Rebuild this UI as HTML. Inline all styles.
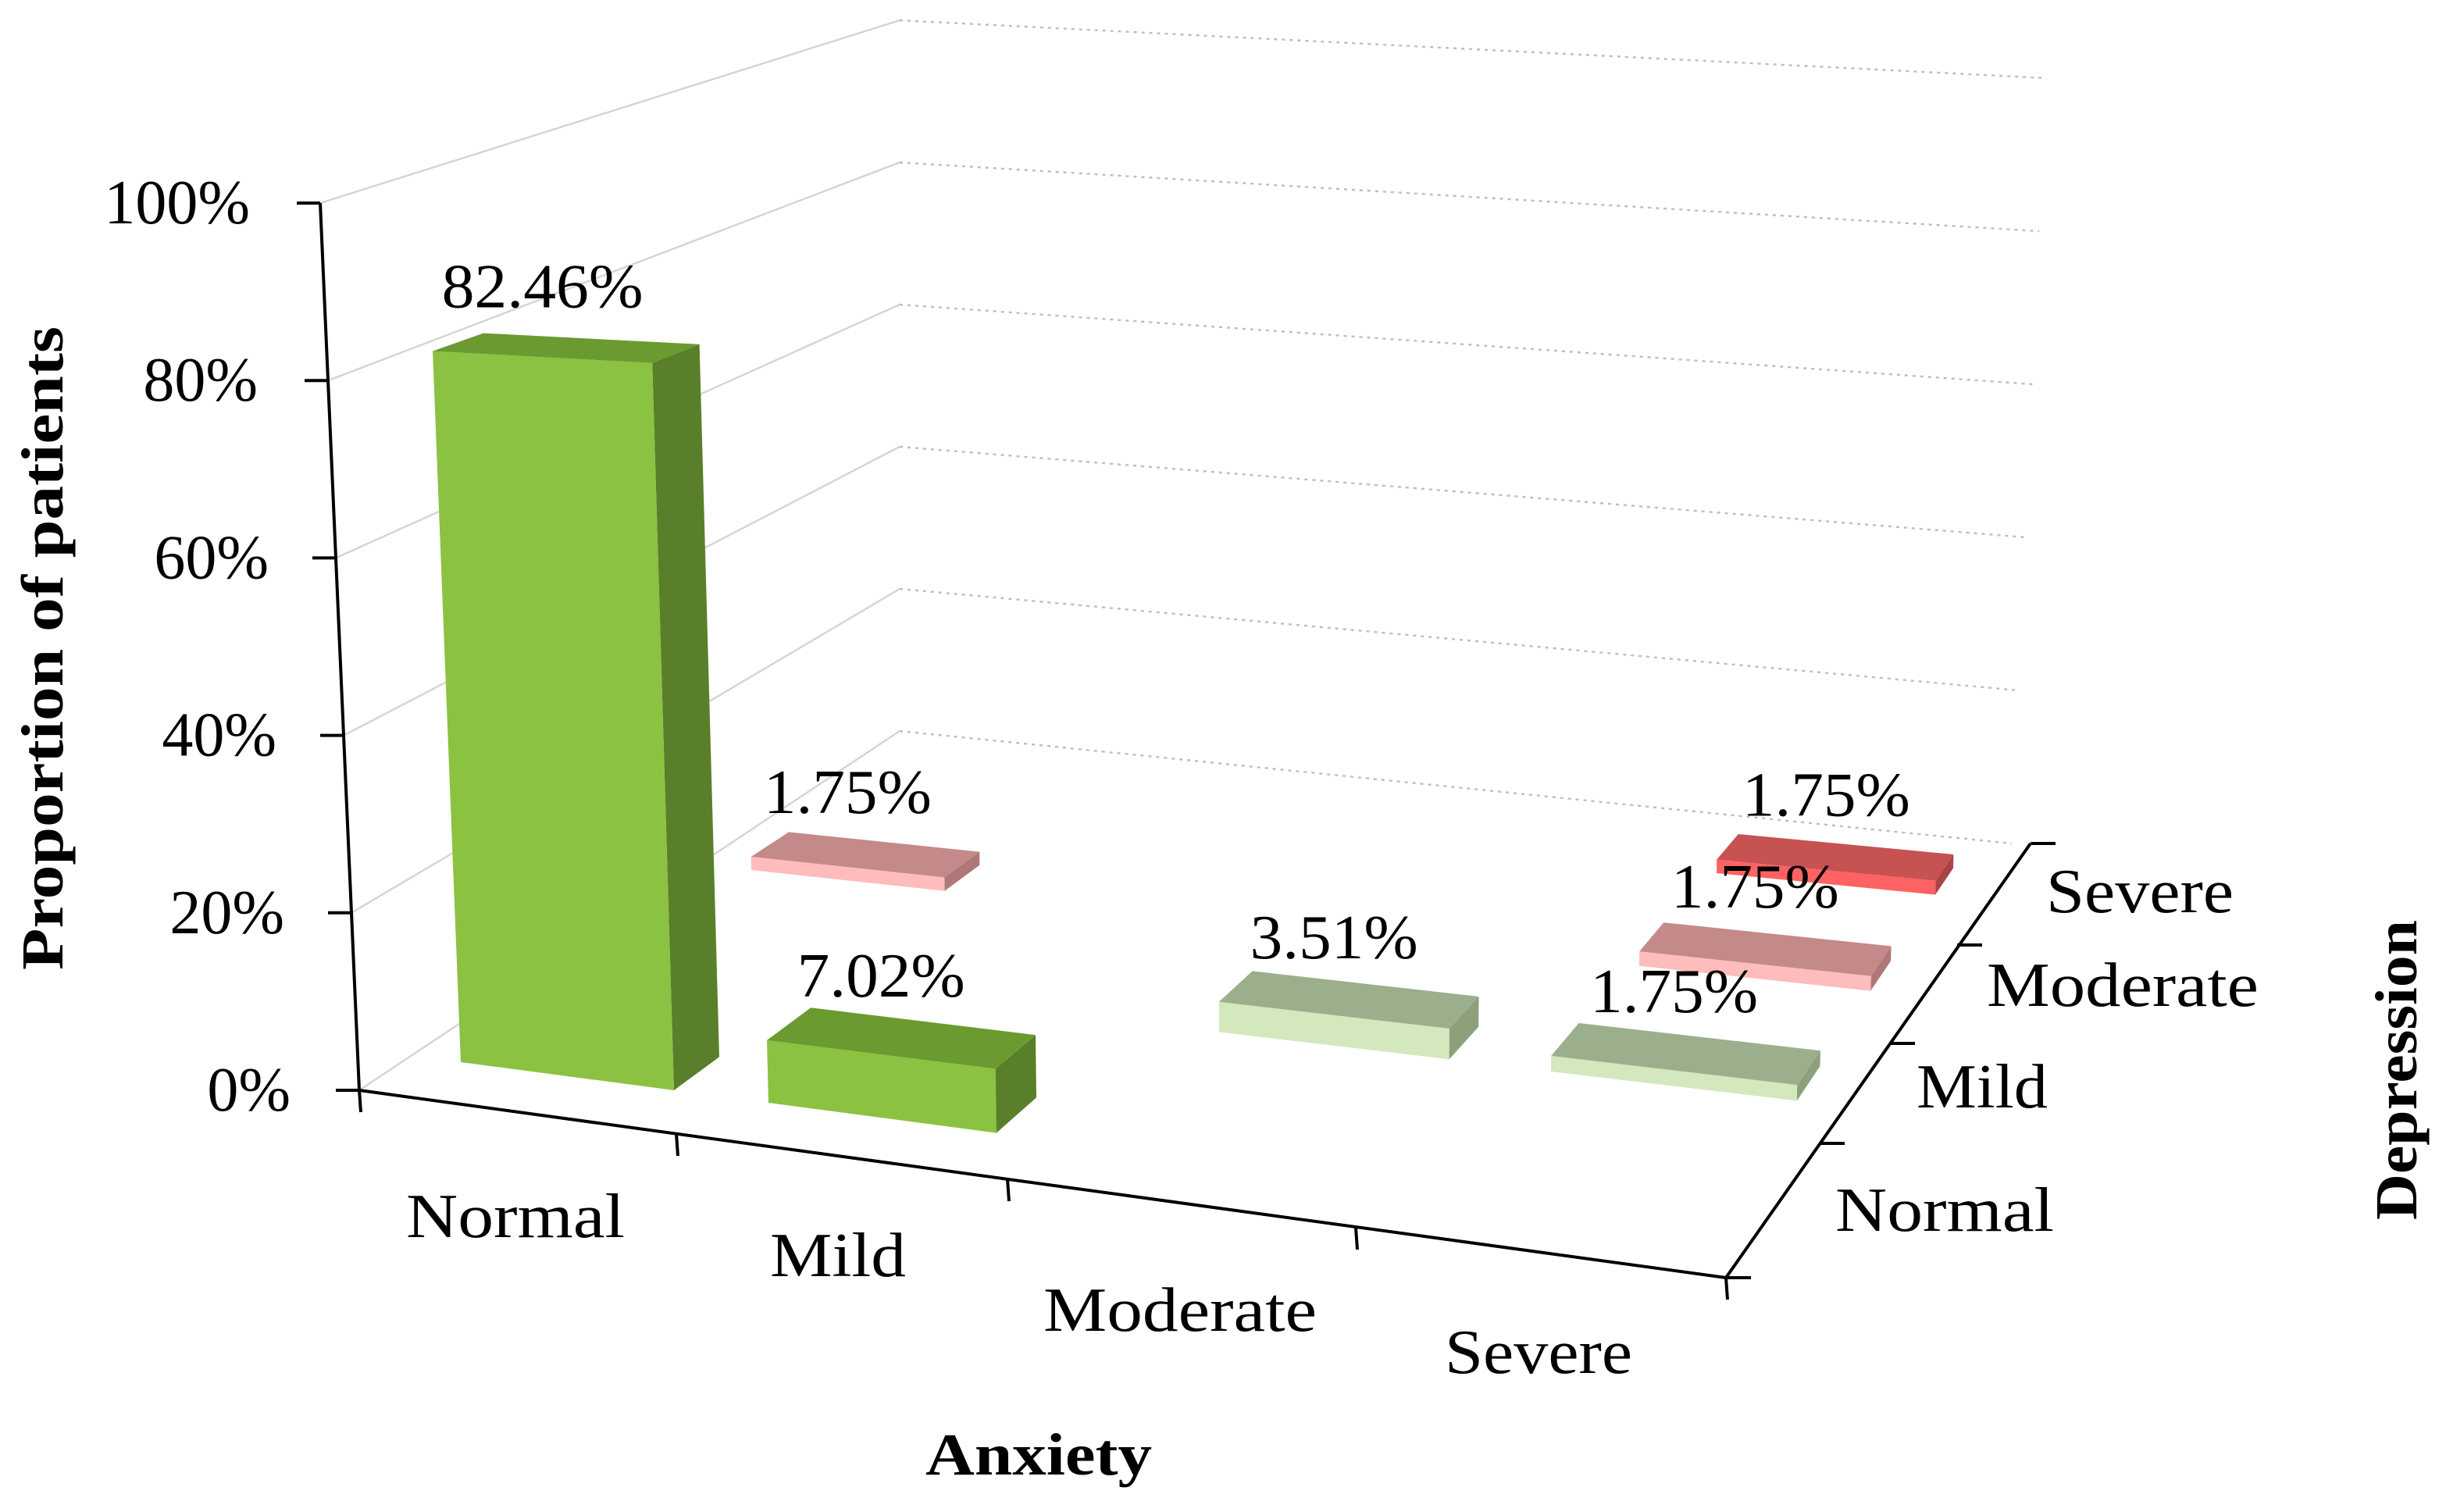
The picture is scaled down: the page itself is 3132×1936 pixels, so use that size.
<!DOCTYPE html>
<html><head><meta charset="utf-8"><style>
html,body{margin:0;padding:0;background:#fff;}
svg{display:block;font-family:"Liberation Serif",serif;}
</style></head><body>
<svg id="chart" xmlns="http://www.w3.org/2000/svg" width="3132" height="1936" viewBox="0 0 1566 968">
<g id="walls"></g>
<g id="axes">
  <line x1="205" y1="130" x2="230" y2="698" stroke="#000" stroke-width="2"/>
  <line x1="230" y1="698" x2="1105" y2="818" stroke="#000" stroke-width="2"/>
  <line x1="1105" y1="818" x2="1300" y2="540" stroke="#000" stroke-width="2"/>
</g>
<g id="bars"></g>
<g id="labels"></g>
<g font-size="40" fill="#000">
  <text x="260" y="792" textLength="140" lengthAdjust="spacingAndGlyphs">Normal</text>
  <text x="493" y="817" textLength="87" lengthAdjust="spacingAndGlyphs">Mild</text>
  <text x="668" y="852" textLength="175" lengthAdjust="spacingAndGlyphs">Moderate</text>
  <text x="925" y="879" textLength="120" lengthAdjust="spacingAndGlyphs">Severe</text>
  <text x="1310" y="584" textLength="120" lengthAdjust="spacingAndGlyphs">Severe</text>
  <text x="1272" y="644" textLength="174" lengthAdjust="spacingAndGlyphs">Moderate</text>
  <text x="1227" y="709" textLength="84" lengthAdjust="spacingAndGlyphs">Mild</text>
  <text x="1175" y="788" textLength="140" lengthAdjust="spacingAndGlyphs">Normal</text>
</g>
<g id="yticks" font-size="40" text-anchor="end"></g>
<text transform="translate(40,415) rotate(-90)" text-anchor="middle" font-size="38" font-weight="bold" textLength="412" lengthAdjust="spacingAndGlyphs">Proportion of patients</text>
<text x="665" y="944" text-anchor="middle" font-size="38" font-weight="bold" textLength="145" lengthAdjust="spacingAndGlyphs">Anxiety</text>
<text transform="translate(1547,685) rotate(-90)" text-anchor="middle" font-size="38" font-weight="bold" textLength="192" lengthAdjust="spacingAndGlyphs">Depression</text>
</svg>
<script>
const anxietyIdx = [0, 1, 0, 2, 3, 3, 3];
const depressionIdx = [0, 0, 2, 1, 1, 2, 3];
const values = [82.46, 7.02, 1.75, 3.51, 1.75, 1.75, 1.75];
const valueLabels = ["82.46%", "7.02%", "1.75%", "3.51%", "1.75%", "1.75%", "1.75%"];
const yTicks = [0, 20, 40, 60, 80, 100];
const yTickLabels = ["0%", "20%", "40%", "60%", "80%", "100%"];

const NS = "http://www.w3.org/2000/svg";
function mk(tag, attrs, parent){const e=document.createElementNS(NS,tag);for(const k in attrs)e.setAttribute(k,attrs[k]);parent.appendChild(e);return e;}

const src=[[0,0],[3,1],[0,2],[3,3]], dst=[[295,680],[993,686],[481,557],[1099,559]];
function solve(A,b){const n=b.length;for(let i=0;i<n;i++){let p=i;for(let r=i+1;r<n;r++)if(Math.abs(A[r][i])>Math.abs(A[p][i]))p=r;[A[i],A[p]]=[A[p],A[i]];[b[i],b[p]]=[b[p],b[i]];for(let r=0;r<n;r++){if(r===i)continue;const f=A[r][i]/A[i][i];for(let c=i;c<n;c++)A[r][c]-=f*A[i][c];b[r]-=f*b[i];}}return b.map((v,i)=>v/A[i][i]);}
const M=[],B=[];
for(let k=0;k<4;k++){const [x,y]=src[k],[X,Y]=dst[k];
 M.push([x,y,1,0,0,0,-x*X,-y*X]);B.push(X);
 M.push([0,0,0,x,y,1,-x*Y,-y*Y]);B.push(Y);}
const H=solve(M,B);
function P(u,w,v){const d=H[6]*u+H[7]*w+1;const x=(H[0]*u+H[1]*w+H[2])/d,y=(H[3]*u+H[4]*w+H[5])/d;
 const h=5.52*v/d; const k=0.044-0.00007*(x-230); return [x-k*h,y-h];}
const pal={0:["#8BC241","#6B9A30","#5A7F2A"],1:["#D3E8BD","#9CAF8C","#8CA07C"],2:["#FFBCBC","#C48A8A","#AE7878"],3:["#FF6262","#C65252","#A94444"]};
const BW=0.7, BD=0.3;
const barsG=document.getElementById('bars'), labG=document.getElementById('labels');
const order=values.map((_,i)=>i).sort((a,b)=>(depressionIdx[b]-depressionIdx[a])||(anxietyIdx[a]-anxietyIdx[b]));
function poly(pts){return pts.map(p=>p[0].toFixed(1)+","+p[1].toFixed(1)).join(" ");}
order.forEach(i=>{
 const u=anxietyIdx[i],w=depressionIdx[i],v=values[i],c=pal[w];
 const g=mk('g',{},barsG);
 
 
 const f0=P(u,w,0),f1=P(u+BW,w,0),b1=P(u+BW,w+BD,0);
 const f0t=P(u,w,v),f1t=P(u+BW,w,v),b1t=P(u+BW,w+BD,v),b0t=P(u,w+BD,v);
 mk('polygon',{points:poly([f1,b1,b1t,f1t]),fill:c[2]},g);
 mk('polygon',{points:poly([f0,f1,f1t,f0t]),fill:c[0]},g);
 mk('polygon',{points:poly([f0t,f1t,b1t,b0t]),fill:c[1]},g);
 const cx=(f0t[0]+f1t[0])/2, ty=f0t[1];
 const t=mk('text',{x:cx.toFixed(1),y:(ty-28).toFixed(1),'text-anchor':'middle','font-size':40,textLength:valueLabels[i].length*21.5,lengthAdjust:'spacingAndGlyphs'},labG);
 
 
 t.textContent=valueLabels[i];
});
const wallG=document.getElementById('walls'), axG=document.getElementById('axes'), ytG=document.getElementById('yticks');
const yLabelRight=[186,182,177,172,165,160];
yTicks.forEach((t,k)=>{const v=t/100;
 const ax=[230-25*v,698-568*v], bl=[576,468-455*v], br=[1288+22*v,540-490*v];
 const l1=mk('line',{x1:ax[0],y1:ax[1],x2:bl[0],y2:bl[1],stroke:'#d4d4d4','stroke-width':1.2},wallG);
 
 
 const l2=mk('line',{x1:bl[0],y1:bl[1],x2:br[0],y2:br[1],stroke:'#bdbdbd','stroke-width':1.2,'stroke-dasharray':'2 3'},wallG);
 
 
 const tk=mk('line',{x1:ax[0]-15,y1:ax[1],x2:ax[0],y2:ax[1],stroke:'#000','stroke-width':2},axG);
 
 
 const tx=mk('text',{x:yLabelRight[k],y:ax[1]+13},ytG);
 
 
 tx.textContent=yTickLabels[k];
});
[[230,698],[433,726],[645,755],[868,786],[1105,818]].forEach(p=>{
 const l=mk('line',{x1:p[0],y1:p[1],x2:p[0]+1,y2:p[1]+14,stroke:'#000','stroke-width':2},axG);
 
 });
[[1105,818],[1165,732],[1210,668],[1253,605],[1300,540]].forEach(p=>{
 const l=mk('line',{x1:p[0],y1:p[1],x2:p[0]+16,y2:p[1],stroke:'#000','stroke-width':2},axG);
 
 });
</script>
</body></html>
